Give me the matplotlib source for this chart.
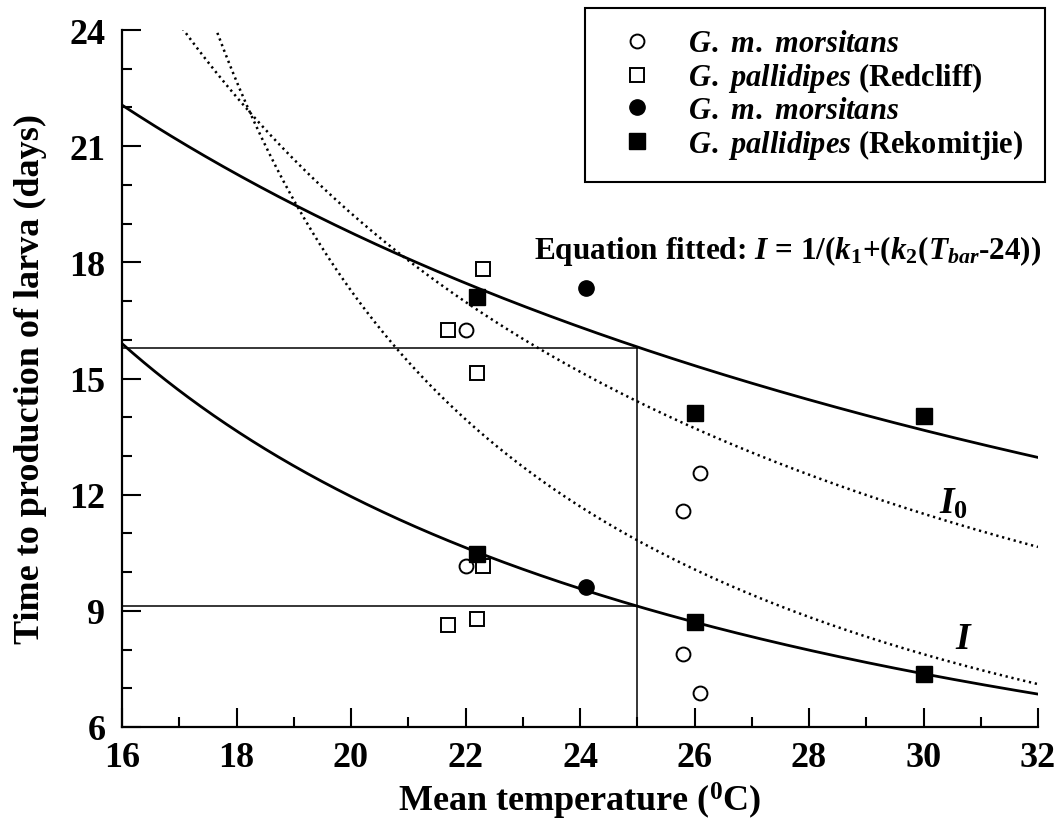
import numpy as np
import matplotlib
matplotlib.use("Agg")
import matplotlib.pyplot as plt
from matplotlib.lines import Line2D

plt.rcParams['font.family'] = ['Liberation Serif', 'DejaVu Serif']
plt.rcParams['font.weight'] = 'bold'
plt.rcParams['mathtext.fontset'] = 'custom'
plt.rcParams['mathtext.rm'] = 'Liberation Serif:bold'
plt.rcParams['mathtext.it'] = 'Liberation Serif:bold:italic'
plt.rcParams['mathtext.bf'] = 'Liberation Serif:bold'

# ---- data ----
# open circles: G. m. morsitans
open_circ_T = [22.0, 22.0, 25.8, 26.1, 25.8, 26.1]
open_circ_I = [16.25, 10.15, 11.58, 12.57, 7.88, 6.88]
# open squares: G. pallidipes (Redcliff)
open_sq_T = [21.7, 22.3, 22.2, 22.3, 21.7, 22.2]
open_sq_I = [16.24, 17.84, 15.15, 10.15, 8.64, 8.80]
# filled circles: G. m. morsitans
fill_circ_T = [24.1, 24.1]
fill_circ_I = [17.35, 9.62]
# filled squares: G. pallidipes (Rekomitjie)
fill_sq_T = [22.2, 22.2, 26.0, 30.0, 26.0, 30.0]
fill_sq_I = [17.1, 10.48, 14.12, 14.04, 8.72, 7.38]

# fitted curves I = 1/(k1 + k2*(T-24))
solid_k1 = [0.06124, 0.10444]
solid_k2 = [0.001989, 0.005194]
dotted_k1 = [0.0659, 0.0855]
dotted_k2 = [0.0035, 0.0069]

# reference lines at T = 25
ref_T = 25.0
ref_I = [15.8, 9.13]

x_ticks = [16, 18, 20, 22, 24, 26, 28, 30, 32]
y_ticks = [6, 9, 12, 15, 18, 21, 24]

fig = plt.figure(figsize=(10.6, 8.2), dpi=100)
ax = fig.add_axes([122/1060, 1-728/820, (1038-122)/1060, (728-31)/820])

Tg = np.linspace(16, 32, 500)
for k1, k2 in zip(solid_k1, solid_k2):
    ax.plot(Tg, 1.0/(k1 + k2*(Tg-24)), color='black', lw=2.0, zorder=3)
for k1, k2 in zip(dotted_k1, dotted_k2):
    ax.plot(Tg, 1.0/(k1 + k2*(Tg-24)), color='black', lw=1.8,
            linestyle=(0, (0.9, 1.5)), zorder=3)

for v in ref_I:
    ax.plot([16, ref_T], [v, v], color='black', lw=1.1, zorder=2)
ax.plot([ref_T, ref_T], [6, max(ref_I)], color='black', lw=1.1, zorder=2)

ms = 10
ax.plot(open_circ_T, open_circ_I, 'o', ms=ms, mfc='white', mec='black', mew=1.4, zorder=4)
ax.plot(open_sq_T, open_sq_I, 's', ms=ms, mfc='white', mec='black', mew=1.4, zorder=4)
ax.plot(fill_circ_T, fill_circ_I, 'o', ms=ms+1, mfc='black', mec='black', zorder=5)
ax.plot(fill_sq_T, fill_sq_I, 's', ms=ms+1, mfc='black', mec='black', zorder=5)

ax.set_xlim(16, 32)
ax.set_ylim(6, 24)
ax.set_xticks(x_ticks)
ax.set_yticks(y_ticks)
ax.set_xticks(np.arange(16, 33, 1), minor=True)
ax.set_yticks(np.arange(6, 25, 1), minor=True)
for s in ['top', 'right']:
    ax.spines[s].set_visible(False)
for s in ['left', 'bottom']:
    ax.spines[s].set_linewidth(1.6)
ax.tick_params(which='major', direction='in', length=14, width=1.5,
               labelsize=26, top=False, right=False)
ax.tick_params(which='minor', direction='in', length=7, width=1.5,
               top=False, right=False)
ax.tick_params(axis='y', which='major', pad=12)
ax.tick_params(axis='x', which='major', pad=10)

ax.set_xlabel(r"Mean temperature ($^0$C)", fontsize=26, fontweight='bold', labelpad=4)
ax.set_ylabel("Time to production of larva (days)", fontsize=26,
              fontweight='bold', labelpad=16)

ax.text(23.2, 18.1,
        r"Equation fitted: $I$ = 1/($k_1$+($k_2$($T_{bar}$-24))",
        fontsize=22.5, va='baseline', ha='left')
ax.text(30.52, 11.77, r"$I_{\mathit{0}}$", fontsize=27, ha='center', va='center')
ax.text(30.7, 8.28, r"$I$", fontsize=27, ha='center', va='center')

handles = [
    Line2D([], [], ls='none', marker='o', ms=10, mfc='white', mec='black', mew=1.4),
    Line2D([], [], ls='none', marker='s', ms=10, mfc='white', mec='black', mew=1.4),
    Line2D([], [], ls='none', marker='o', ms=11, mfc='black', mec='black'),
    Line2D([], [], ls='none', marker='s', ms=11, mfc='black', mec='black'),
]
labels = [r"$G.\ m.\ morsitans$",
          r"$G.\ pallidipes$ (Redcliff)",
          r"$G.\ m.\ morsitans$",
          r"$G.\ pallidipes$ (Rekomitjie)"]
leg = ax.legend(handles, labels, loc='upper right',
                bbox_to_anchor=(1045/1060, 1-9/820),
                bbox_transform=fig.transFigure,
                fontsize=22, frameon=True, fancybox=False, framealpha=1,
                edgecolor='black', borderpad=0.7, handlelength=2.0,
                handletextpad=0.69, labelspacing=0.06, borderaxespad=0)
leg.get_frame().set_linewidth(1.5)

fig.savefig("out.png", dpi=100)
